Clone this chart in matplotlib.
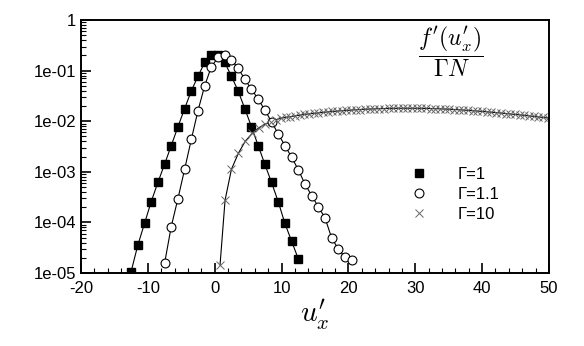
import matplotlib
matplotlib.use('Agg')
import matplotlib.pyplot as plt
from matplotlib.ticker import MultipleLocator, FixedLocator, FuncFormatter, LogLocator

plt.rcParams['font.family'] = ['Liberation Sans', 'DejaVu Sans']
plt.rcParams['mathtext.fontset'] = 'cm'
plt.rcParams['axes.unicode_minus'] = False

# Gamma = 1 (filled squares)
u_g1 = [-12.5, -11.5, -10.5, -9.5, -8.5, -7.5, -6.5, -5.5, -4.5, -3.5, -2.5, -1.5, -0.5,
        0.5, 1.5, 2.5, 3.5, 4.5, 5.5, 6.5, 7.5, 8.5, 9.5, 10.5, 11.5, 12.5]
f_g1 = [1.07e-5, 3.55e-5, 9.55e-5, 2.57e-4, 6.17e-4, 1.41e-3, 3.31e-3, 7.76e-3, 1.78e-2,
        3.98e-2, 7.76e-2, 0.145, 0.204,
        0.204, 0.145, 7.76e-2, 3.98e-2, 1.78e-2, 7.76e-3, 3.31e-3, 1.41e-3, 6.17e-4,
        2.57e-4, 9.55e-5, 4.27e-5, 1.91e-5]

# Gamma = 1.1 (open circles)
u_g11 = [-7.5, -6.5, -5.5, -4.5, -3.5, -2.5, -1.5, -0.5, 0.5, 1.5, 2.5, 3.5, 4.5, 5.5,
         6.5, 7.5, 8.5, 9.5, 10.5, 11.5, 12.5, 13.5, 14.5, 15.5, 16.5, 17.5, 18.5, 19.5, 20.5]
f_g11 = [1.55e-5, 8.3e-5, 2.95e-4, 1.12e-3, 4.37e-3, 1.62e-2, 5.01e-2, 0.120, 0.182, 0.204,
         0.162, 0.112, 6.76e-2, 4.27e-2, 2.75e-2, 1.66e-2, 9.77e-3, 5.62e-3, 3.31e-3,
         1.95e-3, 1.10e-3, 5.75e-4, 3.39e-4, 2.04e-4, 1.23e-4, 4.9e-5, 2.95e-5, 2.04e-5, 1.82e-5]

# Gamma = 10 (crosses)
u_g10 = [0.8, 1.55, 2.5, 3.55, 4.55, 5.6, 6.6, 7.5, 8.4, 9.15, 9.9,
         10.6, 11.3, 12.0, 12.7, 13.4, 14.1, 14.8, 15.5, 16.2, 16.9, 17.6, 18.3, 19.0, 19.7,
         20.4, 21.1, 21.8, 22.5, 23.2, 23.9, 24.6, 25.3, 26.0, 26.7, 27.4, 28.1, 28.8, 29.5,
         30.2, 30.9, 31.6, 32.3, 33.0, 33.7, 34.4, 35.1, 35.8, 36.5, 37.2, 37.9, 38.6, 39.3,
         40.0, 40.7, 41.4, 42.1, 42.8, 43.5, 44.2, 44.9, 45.6, 46.3, 47.0, 47.7, 48.4, 49.1, 49.8]
f_g10 = [1.45e-5, 2.75e-4, 1.12e-3, 2.34e-3, 3.98e-3, 5.75e-3, 7.41e-3, 8.71e-3, 9.77e-3,
         1.07e-2, 1.148e-2,
         0.01189, 0.01230, 0.01274, 0.01318, 0.01365, 0.01396, 0.01429, 0.01462, 0.01496,
         0.01531, 0.01560, 0.01585, 0.01611, 0.01637, 0.01660, 0.01683, 0.01706, 0.01726,
         0.01742, 0.01758, 0.01770, 0.01782, 0.01791, 0.01799, 0.01803, 0.01807, 0.01807,
         0.01807, 0.01803, 0.01799, 0.01791, 0.01782, 0.01770, 0.01758, 0.01742, 0.01726,
         0.01706, 0.01687, 0.01663, 0.01641, 0.01614, 0.01589, 0.01563, 0.01535, 0.01507,
         0.01479, 0.01452, 0.01422, 0.01393, 0.01365, 0.01337, 0.01306, 0.01276, 0.01247,
         0.01219, 0.01189, 0.01159]

labels = ['\u0393=1', '\u0393=1.1', '\u0393=10']

fig = plt.figure(figsize=(5.84, 3.46), dpi=100)
ax = fig.add_axes([0.1387, 0.211, 0.8013, 0.731])

# curves
ax.plot(u_g1, f_g1, color='black', lw=0.8)
ax.plot(u_g11, f_g11, color='black', lw=0.8)
ax.plot(u_g10, f_g10, color='black', lw=0.8)

# symbols
h1, = ax.plot(u_g1, f_g1, ls='none', marker='s', ms=6.0, mfc='black', mec='black',
              label=labels[0])
h2, = ax.plot(u_g11, f_g11, ls='none', marker='o', ms=6.4, mfc='white', mec='black',
              mew=0.8, label=labels[1])
h3, = ax.plot(u_g10, f_g10, ls='none', marker='x', ms=5.5, mec='#666666', mew=0.7,
              label=labels[2])

ax.set_yscale('log')
ax.set_xlim(-20, 50)
ax.set_ylim(1e-5, 1)

ax.xaxis.set_major_locator(MultipleLocator(10))
ax.xaxis.set_minor_locator(MultipleLocator(2))
ax.yaxis.set_major_locator(FixedLocator([1e-5, 1e-4, 1e-3, 1e-2, 1e-1, 1]))
ax.yaxis.set_minor_locator(LogLocator(base=10, subs=range(2, 10)))
ax.yaxis.set_major_formatter(FuncFormatter(lambda v, p: '1' if v >= 1 else '%.0e' % v))

ax.tick_params(which='both', direction='in', top=False, right=False, labelsize=12)
ax.tick_params(which='major', length=7, width=1.2)
ax.tick_params(which='minor', length=3.5, width=0.8)
ax.tick_params(axis='x', pad=6)
for s in ax.spines.values():
    s.set_linewidth(1.4)

ax.set_xlabel(r'$u^\prime_x$', fontsize=21, labelpad=1)

ax.text(0.790, 0.875, r'$\dfrac{f^\prime(u^\prime_x)}{\Gamma N}$', transform=ax.transAxes,
        fontsize=17, ha='center', va='center')

ax.legend(handles=[h1, h2, h3], loc='upper left', bbox_to_anchor=(0.7045, 0.418),
          frameon=False, fontsize=12, borderpad=0, borderaxespad=0,
          handlelength=1.0, handletextpad=1.84, labelspacing=0.3)

fig.savefig('out.png', dpi=100)
